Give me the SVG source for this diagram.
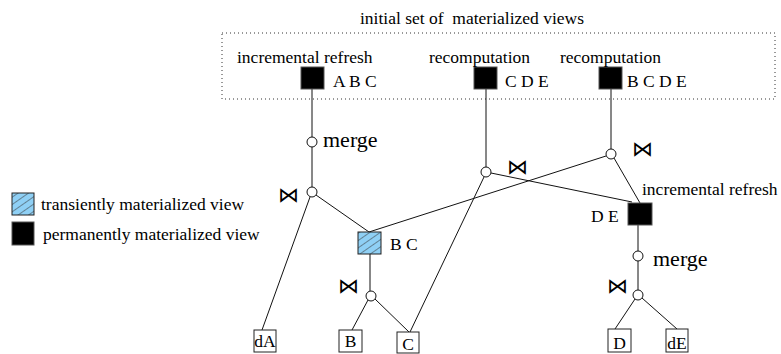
<svg xmlns="http://www.w3.org/2000/svg" width="781" height="354" viewBox="0 0 781 354">
<style>
.s{font-family:'Liberation Serif','Times New Roman','DejaVu Serif',serif;fill:#000;font-size:17.5px}
.mg{font-size:22px}
.bt{font-family:'DejaVu Sans',sans-serif;font-size:21px;fill:#000}
.ln{stroke:#111;stroke-width:1;fill:none}
.op{fill:#fff;stroke:#111;stroke-width:1}
.perm{fill:#000;stroke:#555;stroke-width:1}
.trans{fill:url(#hatch);stroke:#222;stroke-width:1}
.base{fill:#fff;stroke:#222;stroke-width:1}
</style>
<defs>
<pattern id="hatch" patternUnits="userSpaceOnUse" width="6" height="6" patternTransform="rotate(-35)">
<rect width="6" height="6" fill="#8fd0f5"/>
<line x1="0" y1="0" x2="6" y2="0" stroke="#333" stroke-width="1"/>
</pattern>
</defs>
<text class="s" x="360" y="23.5" xml:space="preserve">initial set of  materialized views</text>
<rect x="222" y="33" width="553" height="66" fill="none" stroke="#333" stroke-width="1" stroke-dasharray="1,3"/>
<g id="connectors">
<line class="ln" x1="312" y1="89" x2="312" y2="137"/>
<line class="ln" x1="312" y1="147" x2="312" y2="187"/>
<line class="ln" x1="310" y1="197" x2="262" y2="330"/>
<line class="ln" x1="316" y1="195" x2="369" y2="232"/>
<line class="ln" x1="486" y1="89" x2="486" y2="167"/>
<line class="ln" x1="611" y1="89" x2="611" y2="149"/>
<line class="ln" x1="491" y1="173" x2="632" y2="202"/>
<line class="ln" x1="614" y1="158" x2="640" y2="203"/>
<line class="ln" x1="606" y1="156" x2="369" y2="232"/>
<line class="ln" x1="484" y1="177" x2="410" y2="332"/>
<line class="ln" x1="370" y1="254" x2="370" y2="291" stroke="#666"/>
<line class="ln" x1="368" y1="300" x2="352" y2="330"/>
<line class="ln" x1="375" y1="299" x2="409" y2="332"/>
<line class="ln" x1="638" y1="225" x2="638" y2="251"/>
<line class="ln" x1="638" y1="261" x2="638" y2="290"/>
<line class="ln" x1="635" y1="299" x2="615" y2="329"/>
<line class="ln" x1="642" y1="298" x2="677" y2="329"/>
</g>
<g id="ABC">
<rect class="perm" x="301" y="67" width="23" height="22"/>
<text class="s" x="237" y="62.5">incremental refresh</text>
<text class="s" x="333" y="87">A B C</text>
</g>
<g id="CDE">
<rect class="perm" x="474" y="67" width="23" height="22"/>
<text class="s" x="429" y="62.5">recomputation</text>
<text class="s" x="505" y="87">C D E</text>
</g>
<g id="BCDE">
<rect class="perm" x="599" y="67" width="23" height="22"/>
<text class="s" x="560" y="62.5">recomputation</text>
<text class="s" x="627" y="87">B C D E</text>
</g>
<g id="merge1">
<circle class="op" cx="312" cy="142" r="5"/>
<text class="s mg" x="323" y="147">merge</text>
</g>
<g id="join1">
<circle class="op" cx="312" cy="192" r="5"/>
<text class="bt" x="278" y="202">⋈</text>
</g>
<g id="join2">
<circle class="op" cx="486" cy="172" r="5"/>
<text class="bt" x="507" y="174">⋈</text>
</g>
<g id="join3">
<circle class="op" cx="611" cy="154" r="5"/>
<text class="bt" x="632" y="156">⋈</text>
</g>
<g id="BC">
<rect class="trans" x="358" y="232" width="23" height="22"/>
<text class="s" x="390" y="250">B C</text>
</g>
<g id="DE">
<rect class="perm" x="628" y="203" width="24" height="22"/>
<text class="s" x="642" y="195">incremental refresh</text>
<text class="s" x="591" y="221.5">D E</text>
</g>
<g id="merge2">
<circle class="op" cx="638" cy="256" r="5"/>
<text class="s mg" x="653" y="266">merge</text>
</g>
<g id="join4">
<circle class="op" cx="371" cy="296" r="5"/>
<text class="bt" x="338" y="293">⋈</text>
</g>
<g id="join5">
<circle class="op" cx="638" cy="295" r="5"/>
<text class="bt" x="607" y="293">⋈</text>
</g>
<g id="dA">
<rect class="base" x="254" y="330" width="22" height="22"/>
<text class="s" x="265" y="347" text-anchor="middle">dA</text>
</g>
<g id="B">
<rect class="base" x="339" y="330" width="23" height="22"/>
<text class="s" x="350.5" y="347" text-anchor="middle">B</text>
</g>
<g id="C">
<rect class="base" x="397" y="332" width="22" height="21"/>
<text class="s" x="408" y="350" text-anchor="middle" font-size="19">C</text>
</g>
<g id="D">
<rect class="base" x="608" y="329" width="23" height="23"/>
<text class="s" x="619.5" y="349" text-anchor="middle">D</text>
</g>
<g id="dE">
<rect class="base" x="666" y="329" width="22" height="23"/>
<text class="s" x="677" y="349" text-anchor="middle">dE</text>
</g>
<g id="legend">
<rect class="trans" x="12" y="193" width="22" height="22"/>
<text class="s" x="41" y="210">transiently materialized view</text>
<rect class="perm" x="12" y="222" width="22" height="23"/>
<text class="s" x="43" y="239.5">permanently materialized view</text>
</g>
</svg>
